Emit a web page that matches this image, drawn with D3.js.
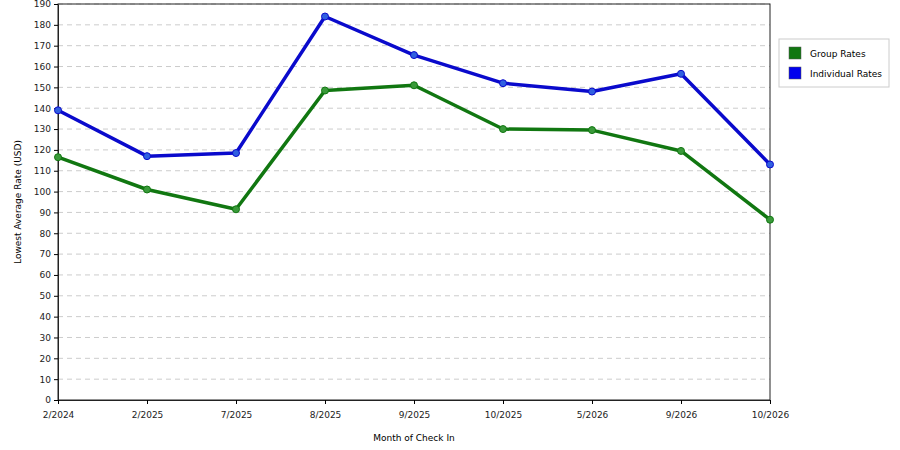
<!DOCTYPE html>
<html><head><meta charset="utf-8">
<script src="https://cdn.jsdelivr.net/npm/d3@7"></script>
<style>body{margin:0;background:#fff}text{font-family:"DejaVu Sans",sans-serif}</style>
</head><body>
<script>
var months = ["2/2024","2/2025","7/2025","8/2025","9/2025","10/2025","5/2026","9/2026","10/2026"];
var groupRates = [116.5, 101, 91.5, 148.5, 151, 130, 129.5, 119.5, 86.5];
var individualRates = [139, 117, 118.5, 184, 165.5, 152, 148, 156.5, 113];
var yTicks = d3.range(0, 191, 10);

var margin = {left: 58, top: 4, right: 130, bottom: 50};
var width = 900, height = 450;
var svg = d3.select("body").append("svg").attr("width", width).attr("height", height);

var x = d3.scalePoint().domain(months).range([margin.left, width - margin.right]);
var y = d3.scaleLinear().domain([0, 190]).range([height - margin.bottom, margin.top]);

// grid
svg.selectAll(".grid").data(yTicks.slice(1)).enter().append("line")
    .attr("x1", margin.left).attr("x2", width - margin.right)
    .attr("y1", function (d) { return y(d); }).attr("y2", function (d) { return y(d); })
    .attr("stroke", "#ccc").attr("stroke-dasharray", "5,4");

svg.append("rect")
    .attr("x", margin.left).attr("y", margin.top)
    .attr("width", width - margin.right - margin.left)
    .attr("height", height - margin.bottom - margin.top)
    .attr("fill", "none").attr("stroke", "#222");

var yAxis = svg.append("g").attr("transform", "translate(" + margin.left + ",0)")
    .call(d3.axisLeft(y).tickValues(yTicks).tickSize(4).tickSizeOuter(0));
var xAxis = svg.append("g").attr("transform", "translate(0," + (height - margin.bottom) + ")")
    .call(d3.axisBottom(x).tickSize(4).tickSizeOuter(0));
[yAxis, xAxis].forEach(function (a) {
    a.select(".domain").attr("stroke", "#222");
    a.selectAll("text").attr("font-size", 9).attr("fill", "#222");
});
xAxis.selectAll("text").attr("dy", "1.2em");

svg.append("text").attr("x", (margin.left + width - margin.right) / 2).attr("y", 441)
    .attr("text-anchor", "middle").attr("font-size", 9).text("Month of Check In");
svg.append("text").attr("transform", "translate(21," + ((margin.top + height - margin.bottom) / 2) + ") rotate(-90)")
    .attr("text-anchor", "middle").attr("font-size", 9).text("Lowest Average Rate (USD)");

var series = [
    {name: "Group Rates", values: groupRates, color: "#117711", dot: "#3a9a3a"},
    {name: "Individual Rates", values: individualRates, color: "#0a0acc", dot: "#3060e0"}
];
var line = d3.line().x(function (d, i) { return x(months[i]); }).y(function (d) { return y(d); });

series.forEach(function (s) {
    svg.append("path").datum(s.values).attr("d", line)
        .attr("fill", "none").attr("stroke", s.color).attr("stroke-width", 3.5).attr("stroke-linejoin", "round");
    svg.selectAll(null).data(s.values).enter().append("circle")
        .attr("cx", function (d, i) { return x(months[i]); }).attr("cy", function (d) { return y(d); })
        .attr("r", 3.5).attr("fill", s.dot).attr("stroke", s.color).attr("stroke-width", 1);
});

// legend
var lg = svg.append("g").attr("transform", "translate(779,39)");
lg.append("rect").attr("width", 110).attr("height", 48).attr("fill", "#fff").attr("stroke", "#ccc");
series.forEach(function (s, i) {
    lg.append("rect").attr("x", 10).attr("y", 8 + i * 20).attr("width", 12).attr("height", 12)
        .attr("fill", i ? "#0000ee" : "#117711").attr("stroke", "#555").attr("stroke-width", 0.5);
    lg.append("text").attr("x", 31).attr("y", 18 + i * 20).attr("font-size", 9).text(s.name);
});
</script>
</body></html>
